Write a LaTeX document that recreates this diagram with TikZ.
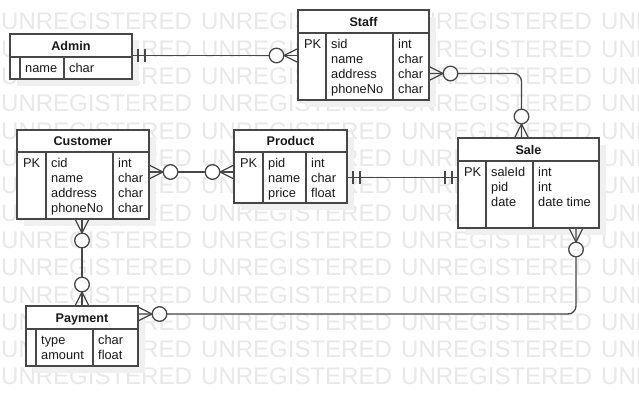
\documentclass[tikz,border=0pt]{standalone}
\usepackage{fontspec}
\setmainfont{Liberation Sans}
\usetikzlibrary{calc}
\newcommand{\rowsat}[4]{%
  \foreach \t [count=\i] in {#4} \node[cell] (#1\i) at ({#2},{#3+15*(\i-1)}) {\t};}
\begin{document}
\begin{tikzpicture}[x=1pt,y=-1pt,
  ent/.style={draw=black!72, line width=1.5pt, fill=white, rectangle, inner sep=0pt, outer sep=0pt, anchor=north west},
  sh/.style={fill=black!6, draw=none},
  sep/.style={draw=black!72, line width=1.4pt},
  ttl/.style={font=\bfseries\fontsize{12.6}{15}\selectfont, anchor=base, inner sep=0pt, text=black!90},
  cell/.style={font=\fontsize{12.8}{15}\selectfont, anchor=base west, inner sep=0pt, text=black!90},
  conn/.style={draw=black!72, line width=1.3pt},
  wm/.style={font=\fontsize{24}{24}\selectfont, text=black!9, anchor=base west, inner sep=0pt},
  zmany/.pic={
    \draw[conn] (0,-7) -- (14,0) -- (0,7);
    \draw[conn, fill=white] (21.5,0) circle[radius=7.3pt];
  },
  mone/.pic={
    \draw[conn] (6,-6.5) -- (6,6.5) (13,-6.5) -- (13,6.5);
  }
]
\useasboundingbox (0,0) rectangle (639,406);
\fill[white] (0,0) rectangle (639,406);
% watermark
\foreach \k in {0,...,13} \foreach \j in {0,...,3}
  \node[wm] (wm\k-\j) at ({1+200*\j},{30+27.3*\k}) {UNREGISTERED};
% shadows
\fill[sh] (17,41) rectangle (139,86);
\fill[sh] (305,17) rectangle (436,107);
\fill[sh] (24,137) rectangle (156,226);
\fill[sh] (241,137) rectangle (354,210);
\fill[sh] (465,145) rectangle (606,235);
\fill[sh] (33,313) rectangle (145,373);
% Admin
\node[ent, minimum width=122pt, minimum height=45pt] (admin) at (10,34) {};
\draw[sep] (10,57) -- (132,57) (20,57) -- (20,79) (64,57) -- (64,79);
\node[ttl] (admint) at (71,50.1) {Admin};
\rowsat{admina}{25}{72.3}{name}
\rowsat{admint}{69}{72.3}{char}
% Staff
\node[ent, minimum width=131pt, minimum height=90pt] (staff) at (298,10) {};
\draw[sep] (298,33) -- (429,33) (326,33) -- (326,100) (393,33) -- (393,100);
\node[ttl] (stafft) at (363.5,26.1) {Staff};
\node[cell] (staffpk) at (304,48.3) {PK};
\rowsat{staffa}{331}{48.3}{sid,name,address,phoneNo}
\rowsat{stafftp}{398}{48.3}{int,char,char,char}
% Customer
\node[ent, minimum width=132pt, minimum height=89pt] (customer) at (17,130) {};
\draw[sep] (17,152) -- (149,152) (46,152) -- (46,219) (113,152) -- (113,219);
\node[ttl] (customert) at (83,145.6) {Customer};
\node[cell] (customerpk) at (23,167.3) {PK};
\rowsat{customera}{51}{167.3}{cid,name,address,phoneNo}
\rowsat{customertp}{118}{167.3}{int,char,char,char}
% Product
\node[ent, minimum width=113pt, minimum height=73pt] (product) at (234,130) {};
\draw[sep] (234,152) -- (347,152) (263,152) -- (263,203) (306,152) -- (306,203);
\node[ttl] (productt) at (290.5,145.6) {Product};
\node[cell] (productpk) at (240,167.3) {PK};
\rowsat{producta}{268}{167.3}{pid,name,price}
\rowsat{producttp}{311}{167.3}{int,char,float}
% Sale
\node[ent, minimum width=141pt, minimum height=90pt] (sale) at (458,138) {};
\draw[sep] (458,161) -- (599,161) (486,161) -- (486,228) (533,161) -- (533,228);
\node[ttl] (salet) at (528.5,154.1) {Sale};
\node[cell] (salepk) at (464,176.3) {PK};
\rowsat{salea}{491}{176.3}{saleId,pid,date}
\rowsat{saletp}{538}{176.3}{int,int,date time}
% Payment
\node[ent, minimum width=112pt, minimum height=60pt] (payment) at (26,306) {};
\draw[sep] (26,329) -- (138,329) (36,329) -- (36,366) (93,329) -- (93,366);
\node[ttl] (paymentt) at (82,322.1) {Payment};
\rowsat{paymenta}{41}{344.3}{type,amount}
\rowsat{paymenttp}{98}{344.3}{char,float}
% connector points
\coordinate (as1) at ($(admin.north east)+(0,21.5)$);
\coordinate (as2) at (as1 -| staff.west);
\coordinate (ss1) at ($(staff.north east)+(0,63.5)$);
\coordinate (ss2) at ($(sale.north west)+(63.5,0)$);
\coordinate (cp1) at ($(customer.north east)+(0,42)$);
\coordinate (cp2) at (cp1 -| product.west);
\coordinate (ps1) at ($(product.north east)+(0,47.7)$);
\coordinate (ps2) at (ps1 -| sale.west);
\coordinate (cy1) at ($(customer.south west)+(65,0)$);
\coordinate (cy2) at (cy1 |- payment.north);
\coordinate (sp1) at ($(sale.south west)+(118,0)$);
\coordinate (sp2) at ($(payment.north east)+(0,8)$);
% connectors
\draw[conn] (as1) -- (as2);
\draw[conn, rounded corners=8pt] (ss1) -| (ss2);
\draw[conn] (cp1) -- (cp2);
\draw[conn] (ps1) -- (ps2);
\draw[conn] (cy1) -- (cy2);
\draw[conn, rounded corners=8pt] (sp1) |- (sp2);
% ends
\pic at (as1) {mone};
\pic[rotate=180] at (as2) {zmany};
\pic at (ss1) {zmany};
\pic[rotate=90] at (ss2) {zmany};
\pic at (cp1) {zmany};
\pic[rotate=180] at (cp2) {zmany};
\pic at (ps1) {mone};
\pic[rotate=180] at (ps2) {mone};
\pic[rotate=-90] at (cy1) {zmany};
\pic[rotate=90] at (cy2) {zmany};
\pic[rotate=-90] at (sp1) {zmany};
\pic at (sp2) {zmany};
\end{tikzpicture}
\end{document}
